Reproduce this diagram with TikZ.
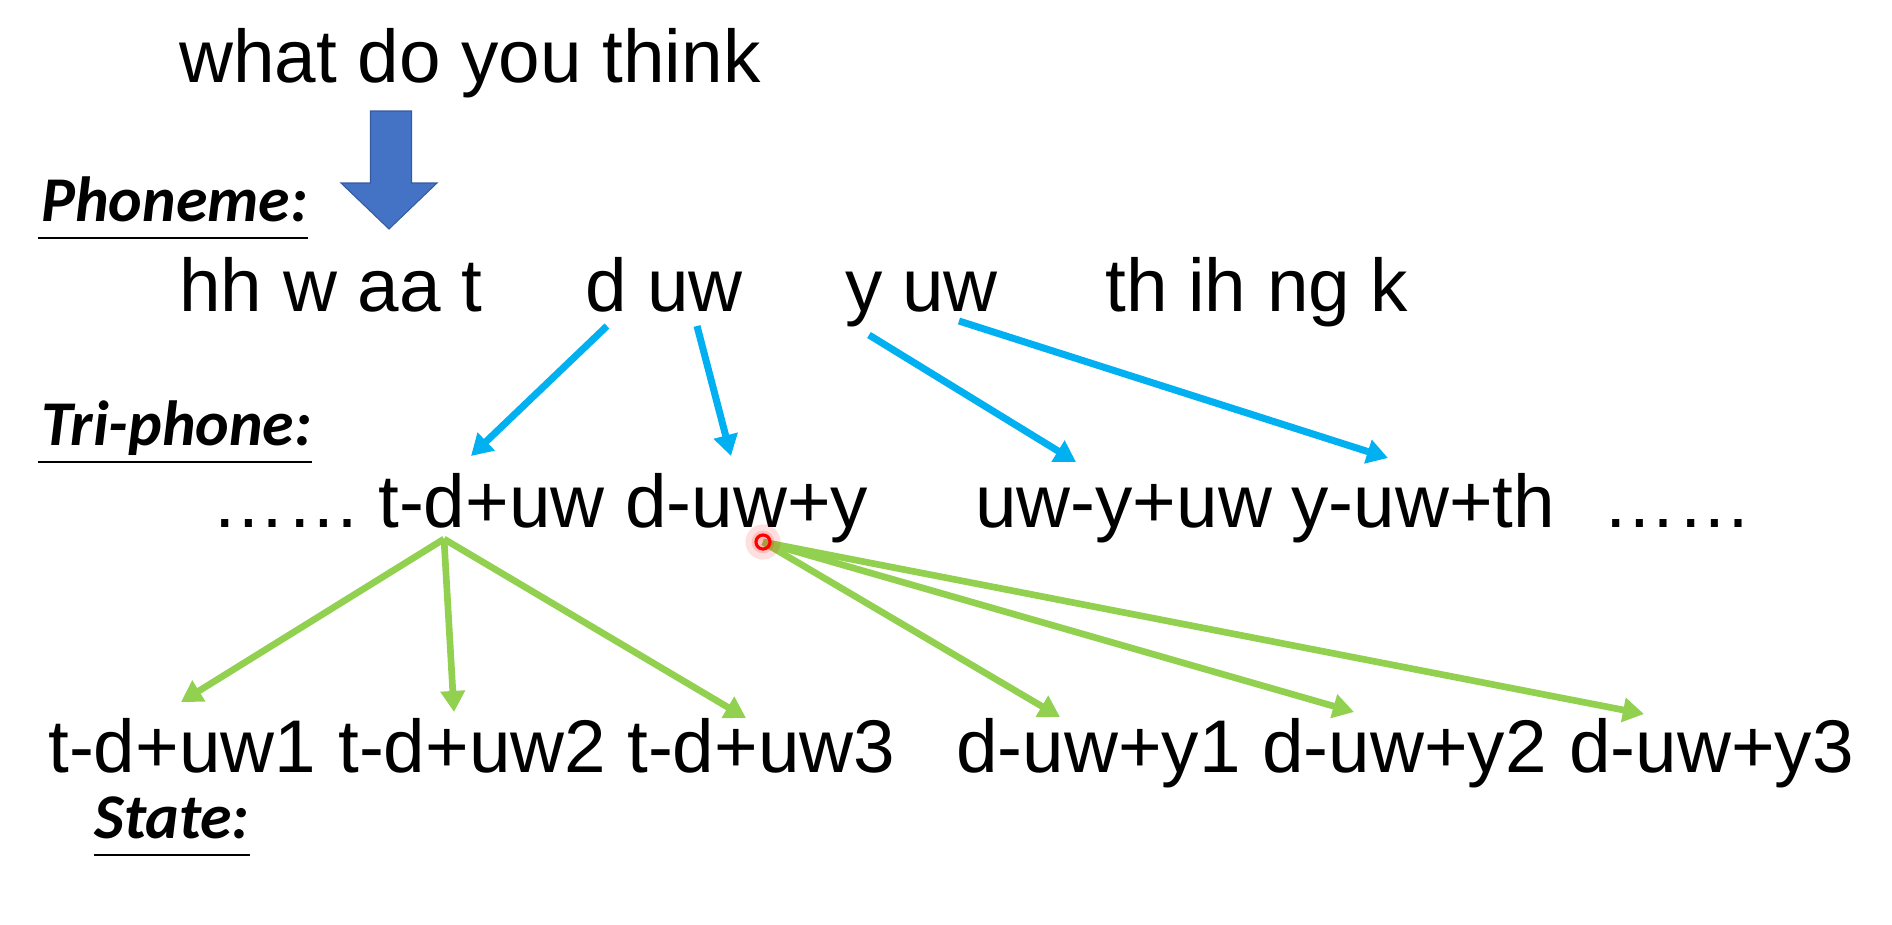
\documentclass[tikz,border=0pt]{standalone}
\usepackage{fontspec}
\setmainfont{Liberation Sans}
\newfontfamily\lblfont{Carlito}
\usetikzlibrary{arrows.meta}
\definecolor{skyblue}{RGB}{0,176,240}
\definecolor{leafgreen}{RGB}{146,208,80}
\definecolor{blockblue}{RGB}{68,114,196}

\begin{document}
\begin{tikzpicture}[x=0.02cm, y=-0.02cm,
    txt/.style={anchor=base west, inner sep=0pt, font=\fontsize{42.5}{50}\selectfont},
    lbl/.style={anchor=base west, inner sep=0pt, font=\lblfont\bfseries\itshape\fontsize{36.3}{43}\selectfont},
    uline/.style={line width=1.5pt},
    blu/.style={-{Triangle[length=12pt,width=13.5pt]}, line width=4pt, draw=skyblue},
    grn/.style={-{Triangle[length=12pt,width=13.5pt]}, line width=3.8pt, draw=leafgreen}]
\useasboundingbox (0,0) rectangle (1892,924);

% sentence and block arrow
\node[txt] (sent) at (179,82) {what do you think};
\filldraw[fill=blockblue, draw=blockblue!80!black, line width=0.6pt]
  (370.5,111) -- (411.5,111) -- (411.5,183) -- (437,183) -- (389,229)
  -- (341,183) -- (370.5,183) -- cycle;

% phoneme row
\node[lbl] (phon) at (41,221) {Phoneme:};
\draw[uline] ([shift={(-3,17)}]phon.base west) -- ([shift={(0,17)}]phon.base east);
\node[txt] (pa) at (179,311) {hh w aa t};
\node[txt] (pd) at (585,311) {d};
\node[txt] (puwa) at (647,311) {uw};
\node[txt] (py) at (845,311) {y};
\node[txt] (puwb) at (902,311) {uw};
\node[txt] (pb) at (1105,311) {th ih ng k};

% tri-phone row
\node[lbl] (tri) at (41,445) {Tri-phone:};
\draw[uline] ([shift={(-3,17)}]tri.base west) -- ([shift={(0,17)}]tri.base east);
\node[txt] (dotsa) at (211,527) {……};
\node[txt] (tdu) at (378,527) {t-d+uw};
\node[txt] (duy) at (625,527) {d-uw+y};
\node[txt] (uyu) at (975,527) {uw-y+uw};
\node[txt] (yut) at (1291,527) {y-uw+th};
\node[txt] (dotsb) at (1602,527) {……};

% state row
\foreach \x/\t [count=\i] in {48/t-d+uw1, 338/t-d+uw2, 627/t-d+uw3,
    956/d-uw+y1, 1262/d-uw+y2, 1569/d-uw+y3}
  \node[txt] (s\i) at (\x,772) {\t};
\node[lbl] (stat) at (94,838) {State:};
\draw[uline] ([shift={(0,17)}]stat.base west) -- ([shift={(0,17)}]stat.base east);

% phoneme -> tri-phone
\draw[blu] ([shift={(22,15)}]pd.base west) -- ([shift={(93,-71)}]tdu.base west);
\draw[blu] ([shift={(50,15)}]puwa.base west) -- ([shift={(106,-71)}]duy.base west);
\draw[blu] ([shift={(24,24)}]py.base west) -- ([shift={(101,-65)}]uyu.base west);
\draw[blu] ([shift={(57,10)}]puwb.base west) -- ([shift={(97,-69)}]yut.base west);

% tri-phone -> state
\coordinate (tdfoot) at ([shift={(66,12)}]tdu.base west);
\coordinate (ptr) at ([shift={(138,15)}]duy.base west);
\foreach \s/\dx/\dy in {1/133/-70, 2/116/-60, 3/119/-54}
  \draw[grn] (tdfoot) -- ([shift={(\dx,\dy)}]s\s.base west);
\foreach \s/\dx/\dy in {4/104/-55, 5/92/-60, 6/75/-58}
  \draw[grn] (ptr) -- ([shift={(\dx,\dy)}]s\s.base west);

% pointer
\fill[red, opacity=0.12] (ptr) circle (10pt);
\fill[red, opacity=0.15] (ptr) circle (6.5pt);
\draw[red, line width=1.8pt] (ptr) circle (4pt);
\end{tikzpicture}
\end{document}
